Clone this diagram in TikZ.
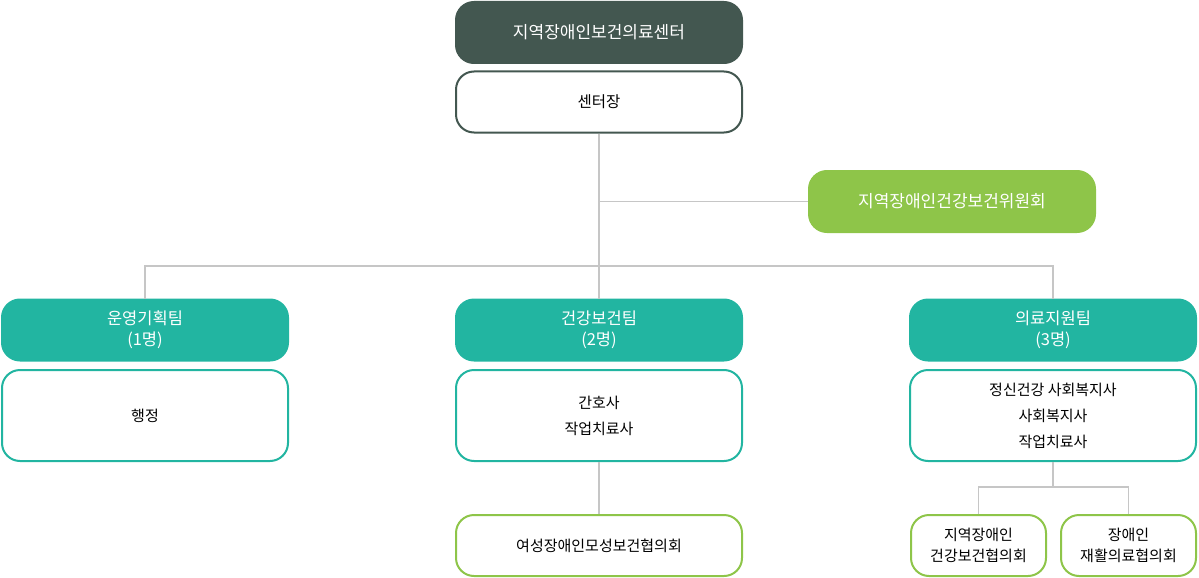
\documentclass[tikz,border=0pt]{standalone}
\usepackage{fontspec}
\setmainfont{Noto Sans CJK KR}
\definecolor{ctrdark}{HTML}{435750}
\definecolor{teamteal}{HTML}{22B5A1}
\definecolor{cmtgreen}{HTML}{8EC549}
\definecolor{linkgray}{HTML}{C6C6C6}
\tikzset{
  box/.style={rounded corners=18pt, minimum width=286pt, minimum height=61pt, align=center, inner sep=0pt, line width=2pt},
  topbox/.style={box, fill=ctrdark, draw=ctrdark, text=white, font=\fontsize{17}{22}\selectfont},
  chiefbox/.style={box, fill=white, draw=ctrdark, font=\fontsize{15.5}{22}\selectfont},
  cmtbox/.style={box, fill=cmtgreen, draw=cmtgreen, text=white, font=\fontsize{17}{22}\selectfont},
  teamhead/.style={box, fill=teamteal, draw=teamteal, text=white, font=\fontsize{16.5}{21}\selectfont},
  teambody/.style={box, fill=white, draw=teamteal, minimum height=91pt, font=\fontsize{15}{26}\selectfont},
  council/.style={box, fill=white, draw=cmtgreen, font=\fontsize{15}{21}\selectfont},
  link/.style={draw=linkgray, line width=1.5pt}
}
\begin{document}
\begin{tikzpicture}[x=1pt,y=-1pt]
\useasboundingbox (0,0) rectangle (1199,578);

% centre and head
\node[topbox] (center) at (599,32.5) {지역장애인보건의료센터};
\node[chiefbox] (chief) at (599,102) {센터장};
\node[cmtbox] (cmte) at (952,201.5) {지역장애인건강보건위원회};

% teams
\node[teamhead] (plan) at (145,330) {운영기획팀\\(1명)};
\node[teamhead] (health) at (599,330) {건강보건팀\\(2명)};
\node[teamhead] (medic) at (1053,330) {의료지원팀\\(3명)};
\node[teambody] (planstaff) at (145,415.5) {행정};
\node[teambody] (healthstaff) at (599,415.5) {간호사\\작업치료사};
\node[teambody] (medicstaff) at (1053,415.5) {정신건강 사회복지사\\사회복지사\\작업치료사};

% councils
\node[council] (mother) at (599,545.5) {여성장애인모성보건협의회};
\node[council, minimum width=135pt] (localcn) at (978.5,545.5) {지역장애인\\건강보건협의회};
\node[council, minimum width=135pt] (rehabcn) at (1128.5,545.5) {장애인\\재활의료협의회};

% connectors
\coordinate (split) at (599,266);
\coordinate (fork) at (1053,487);
\path[link] (chief) -- (split);
\path[link] (chief |- cmte) -- (cmte);
\path[link] (plan.north) |- (split) -| (medic.north);
\path[link] (split) -- (health.north);
\path[link] (healthstaff) -- (mother);
\path[link] (medicstaff) -- (fork);
\path[link] (localcn.north) |- (fork) -| (rehabcn.north);

\end{tikzpicture}
\end{document}
